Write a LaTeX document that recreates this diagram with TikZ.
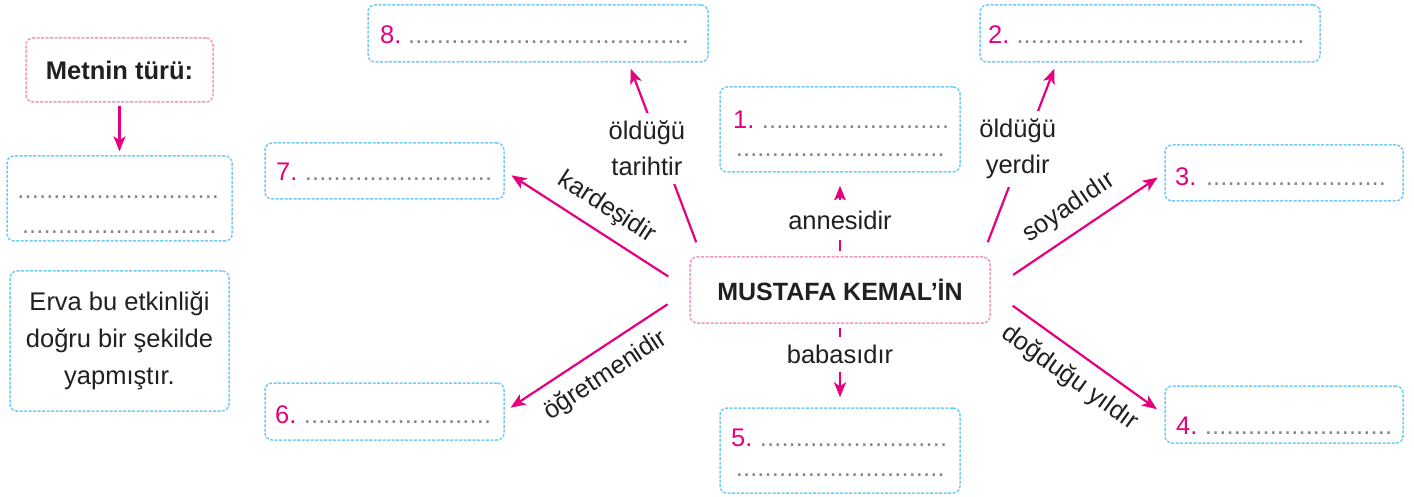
\documentclass[tikz,border=0pt]{standalone}
\usepackage{fontspec}
\setmainfont{Liberation Sans}
\usetikzlibrary{arrows.meta, calc}

\definecolor{arrowmag}{RGB}{230,0,126}
\definecolor{framepink}{RGB}{242,150,192}
\definecolor{frameblue}{RGB}{112,204,244}
\definecolor{dotgray}{RGB}{135,135,135}
\definecolor{inkblack}{RGB}{35,31,32}

\newcommand{\dotrow}[1]{\textcolor{dotgray}{\cleaders\hbox to 7.2pt{\hss.\hss}\hskip #1\relax}}
\newcommand{\itemno}[1]{\textcolor{arrowmag}{#1}\hspace{6pt}}

\begin{document}
\begin{tikzpicture}[x=1pt, y=-1pt,
    every node/.style={font=\fontsize{25.5}{36}\selectfont, text=inkblack},
    boxframe/.style={draw, dash pattern=on 3pt off 1.5pt, line width=1.5pt, rounded corners=7pt, inner sep=0pt},
    pinkframe/.style={boxframe, draw=framepink},
    blueframe/.style={boxframe, draw=frameblue},
    fillline/.style={anchor=base west, inner sep=0pt},
    connline/.style={draw=arrowmag, line width=2.2pt},
    linkarrow/.style={connline, -{Stealth[length=15pt, width=12pt, inset=4pt]}},
    gap/.style={fill=white, inner sep=2pt}]
    \useasboundingbox (0,0) rectangle (1414,497);

    % left column
    \node[pinkframe, minimum width=187pt, minimum height=64pt, font=\bfseries\fontsize{25.5}{36}\selectfont] (genre) at (119.5,70) {Metnin türü:};
    \node[blueframe, minimum width=225pt, minimum height=85pt] (genrebox) at (119.5,198.5) {};
    \node[fillline] (genre1) at (16,199) {\dotrow{204pt}};
    \node[fillline] (genre2) at (20,234) {\dotrow{198pt}};
    \node[blueframe, minimum width=219pt, minimum height=140pt, align=center, font=\fontsize{25.5}{37}\selectfont] (note) at (119.5,341) {Erva bu etkinliği\\doğru bir şekilde\\yapmıştır.};
    \draw[linkarrow, shorten <=3pt, shorten >=4pt] (genre.south) -- (genrebox.north);

    % centre
    \node[pinkframe, minimum width=300pt, minimum height=66pt, font=\bfseries\fontsize{25}{30}\selectfont] (ctr) at (840,290) {MUSTAFA KEMAL’İN};

    % answer boxes
    \node[blueframe, minimum width=340pt, minimum height=57pt] (b8) at (538,33.5) {};
    \node[fillline] (b8t) at (380,44) {\itemno{8.}\dotrow{282pt}};
    \node[blueframe, minimum width=239pt, minimum height=56pt] (b7) at (384.5,171) {};
    \node[fillline] (b7t) at (276,181) {\itemno{7.}\dotrow{190pt}};
    \node[blueframe, minimum width=240pt, minimum height=85pt] (b1) at (840,129.5) {};
    \node[fillline] (b1t) at (733,129) {\itemno{1.}\dotrow{190pt}};
    \node[fillline] (b1u) at (735,157) {\dotrow{210pt}};
    \node[blueframe, minimum width=340pt, minimum height=57pt] (b2) at (1150,33.5) {};
    \node[fillline] (b2t) at (988,44) {\itemno{2.}\dotrow{290pt}};
    \node[blueframe, minimum width=238pt, minimum height=56pt] (b3) at (1284,173) {};
    \node[fillline] (b3t) at (1175,186) {\itemno{3.}\dotrow{187pt}};
    \node[blueframe, minimum width=239pt, minimum height=57pt] (b6) at (384.5,411.5) {};
    \node[fillline] (b6t) at (275,423) {\itemno{6.}\dotrow{190pt}};
    \node[blueframe, minimum width=240pt, minimum height=85pt] (b5) at (840,450.5) {};
    \node[fillline] (b5t) at (731,446) {\itemno{5.}\dotrow{190pt}};
    \node[fillline] (b5u) at (735,476) {\dotrow{210pt}};
    \node[blueframe, minimum width=238pt, minimum height=57pt] (b4) at (1284,414.5) {};
    \node[fillline] (b4t) at (1176,434) {\itemno{4.}\dotrow{190pt}};

    % connectors
    \draw[linkarrow, shorten <=5pt, shorten >=13pt] (ctr.north) -- node[gap, pos=0.435, minimum height=40pt] {annesidir} (b1.south);
    \draw[linkarrow, shorten <=4pt, shorten >=10pt] (ctr.south) -- node[gap, pos=0.37, minimum height=35pt] {babasıdır} (b5.north);
    \draw[linkarrow] ($(ctr.north west)+(7,-14)$) -- node[gap, pos=0.54, xshift=-14pt, inner ysep=8pt, align=center] {öldüğü\\tarihtir} ($(b8.south east)+(-78,6)$);
    \draw[linkarrow] ($(ctr.north east)+(-3,-14)$) -- node[gap, pos=0.54, xshift=-6pt, inner ysep=8pt, align=center] {öldüğü\\yerdir} ($(b2.south west)+(75,6)$);
    \draw[linkarrow, shorten <=25pt, shorten >=8pt] (ctr.west) -- node[sloped, above=8pt, pos=0.52] {kardeşidir} (b7.east);
    \draw[linkarrow, shorten <=26pt, shorten >=7pt] (ctr.west) -- node[sloped, below=9pt, pos=0.53] {öğretmenidir} (b6.east);
    \draw[linkarrow, shorten <=27pt, shorten >=8pt] (ctr.east) -- node[sloped, above=8pt, pos=0.53] {soyadıdır} (b3.west);
    \draw[linkarrow, shorten <=27pt, shorten >=9pt] (ctr.east) -- node[sloped, below=9pt, pos=0.54] {doğduğu yıldır} (b4.west);
\end{tikzpicture}
\end{document}
